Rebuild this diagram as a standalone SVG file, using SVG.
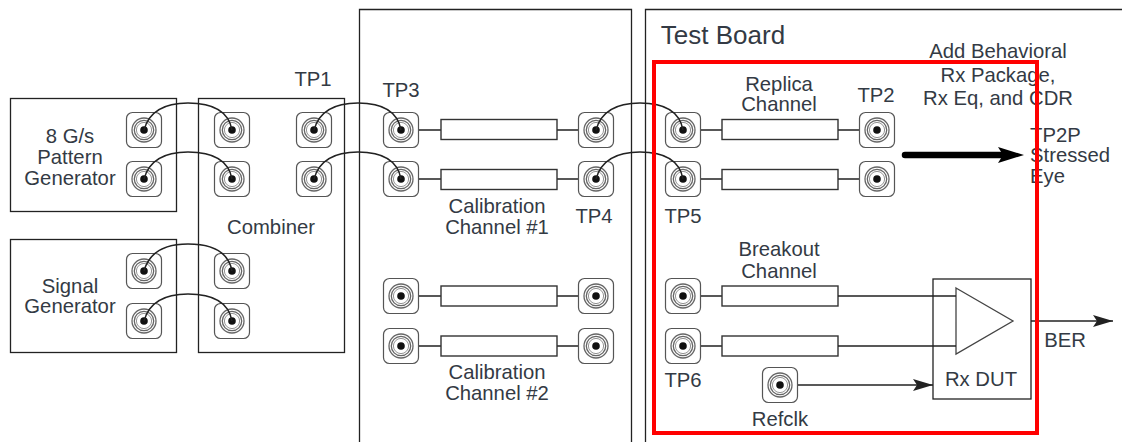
<svg xmlns="http://www.w3.org/2000/svg" width="1122" height="442" viewBox="0 0 1122 442">
<style>
.box{fill:none;stroke:#222;stroke-width:1.3}
.chan{fill:#fff;stroke:#333;stroke-width:1.4}
.wire{fill:none;stroke:#222;stroke-width:1.4}
.cable{fill:none;stroke:#222;stroke-width:1.5}
text{font-family:"Liberation Sans",Arial,sans-serif;font-size:20.3px;fill:#333a44;text-anchor:middle}
</style>
<defs>
<g id="conn">
<rect x="-17.5" y="-17.5" width="35" height="35" rx="6" fill="#fff" stroke="#555" stroke-width="1.2"/>
<circle r="12" fill="none" stroke="#666" stroke-width="1.3"/>
<circle r="9.7" fill="none" stroke="#666" stroke-width="1.3"/>
<circle r="7.6" fill="none" stroke="#888" stroke-width="0.9"/>
<circle r="3.8" fill="#111"/>
</g>
<marker id="arr" markerUnits="userSpaceOnUse" markerWidth="20" markerHeight="14" refX="20" refY="7" orient="auto"><path d="M0,1 L20,7 L0,13 L4,7 Z" fill="#222"/></marker>
<marker id="thick" markerUnits="userSpaceOnUse" markerWidth="26" markerHeight="18" refX="7" refY="9" orient="auto"><path d="M0,1 L26,9 L0,17 L5,9 Z" fill="#000"/></marker>
</defs>
<g id="panel-calibration"><path class="box" d="M359.500,442V9.500H631.500V442"/></g>
<g id="panel-test-board"><path class="box" d="M645.500,442V9.500H1122"/><text x="723" y="44" style="font-size:26px">Test Board</text></g>
<g id="pattern-generator"><rect class="box" x="10.500" y="98.500" width="166" height="113"/><text x="70" y="143">8 G/s</text><text x="70" y="164">Pattern</text><text x="70" y="185">Generator</text><use href="#conn" x="144" y="130"/><use href="#conn" x="144" y="179"/></g>
<g id="signal-generator"><rect class="box" x="10.500" y="239.500" width="166" height="113"/><text x="70" y="292.500">Signal</text><text x="70" y="313">Generator</text><use href="#conn" x="144" y="271"/><use href="#conn" x="144" y="321"/></g>
<g id="combiner"><rect class="box" x="198.500" y="98.500" width="146" height="254"/><text x="271" y="234">Combiner</text><text x="313" y="86">TP1</text><use href="#conn" x="232" y="130"/><use href="#conn" x="232" y="179"/><use href="#conn" x="232" y="271"/><use href="#conn" x="232" y="321"/><use href="#conn" x="314" y="130"/><use href="#conn" x="314" y="179"/></g>
<g id="calibration-channel-1"><text x="401" y="97">TP3</text><use href="#conn" x="401" y="130"/><use href="#conn" x="401" y="179"/><path class="wire" d="M419,130H441M419,179H441M557,130H578M557,179H578"/><rect class="chan" x="441" y="119.500" width="116" height="20"/><rect class="chan" x="441" y="169.500" width="116" height="20"/><use href="#conn" x="596" y="130"/><use href="#conn" x="596" y="179"/><text x="497" y="213">Calibration</text><text x="497" y="234">Channel #1</text><text x="594" y="223">TP4</text></g>
<g id="calibration-channel-2"><use href="#conn" x="401" y="296"/><use href="#conn" x="401" y="346"/><path class="wire" d="M419,296H441M419,346H441M557,296H578M557,346H578"/><rect class="chan" x="441" y="286" width="116" height="20"/><rect class="chan" x="441" y="336" width="116" height="20"/><use href="#conn" x="596" y="296"/><use href="#conn" x="596" y="346"/><text x="497" y="379">Calibration</text><text x="497" y="399.500">Channel #2</text></g>
<g id="replica-channel"><text x="779" y="91">Replica</text><text x="779" y="111">Channel</text><text x="876" y="102">TP2</text><use href="#conn" x="683" y="130"/><use href="#conn" x="683" y="179"/><path class="wire" d="M701,130H722M701,179H722M838,130H859M838,179H859"/><rect class="chan" x="722" y="119.500" width="116" height="20"/><rect class="chan" x="722" y="169.500" width="116" height="20"/><use href="#conn" x="877" y="130"/><use href="#conn" x="877" y="179"/><text x="683" y="223">TP5</text></g>
<g id="breakout-channel"><text x="779" y="256">Breakout</text><text x="779" y="278">Channel</text><use href="#conn" x="683" y="296"/><use href="#conn" x="683" y="346"/><path class="wire" d="M701,296H722M701,346H722"/><rect class="chan" x="722" y="286" width="116" height="20"/><rect class="chan" x="722" y="336" width="116" height="20"/><text x="683" y="387">TP6</text></g>
<g id="refclk"><use href="#conn" x="780" y="385"/><text x="780" y="426">Refclk</text></g>
<g id="rx-dut"><rect class="box" x="933" y="279" width="98" height="120"/><path d="M956,288L1013,321L956,354Z" fill="none" stroke="#444" stroke-width="1.3"/><text x="981" y="386">Rx DUT</text></g>
<g id="annotations"><text x="998" y="58">Add Behavioral</text><text x="998" y="82">Rx Package,</text><text x="998" y="105">Rx Eq, and CDR</text><text x="1030" y="142" style="text-anchor:start">TP2P</text><text x="1030" y="162" style="text-anchor:start">Stressed</text><text x="1030" y="183" style="text-anchor:start">Eye</text><text x="1065" y="347">BER</text></g>
<g id="connectors">
<path class="cable" d="M144,130C150,108 170,103 188,103C208,103 228,108 232,130"/>
<path class="cable" d="M144,179C150,157 170,152 188,152C208,152 228,157 232,179"/>
<path class="cable" d="M144,271C150,249 170,244 188,244C208,244 228,249 232,271"/>
<path class="cable" d="M144,321C150,299 170,294 188,294C208,294 228,299 232,321"/>
<path class="cable" d="M314,130C320,108 340,103 358,103C378,103 397,108 401,130"/>
<path class="cable" d="M314,179C320,157 340,152 358,152C378,152 397,157 401,179"/>
<path class="cable" d="M596,130C602,108 622,103 640,103C660,103 679,108 683,130"/>
<path class="cable" d="M596,179C602,157 622,152 640,152C660,152 679,157 683,179"/>
<path class="wire" d="M838,296H956M838,346H956"/>
<path class="wire" d="M798,385H933" marker-end="url(#arr)"/>
<path class="wire" d="M1031,321H1113" marker-end="url(#arr)"/>
<path d="M905,155H1005" fill="none" stroke="#000" stroke-width="6.500" stroke-linecap="round" marker-end="url(#thick)"/>
</g>
<rect id="highlight" x="654" y="62" width="383" height="371" fill="none" stroke="#f00" stroke-width="4"/>
</svg>
